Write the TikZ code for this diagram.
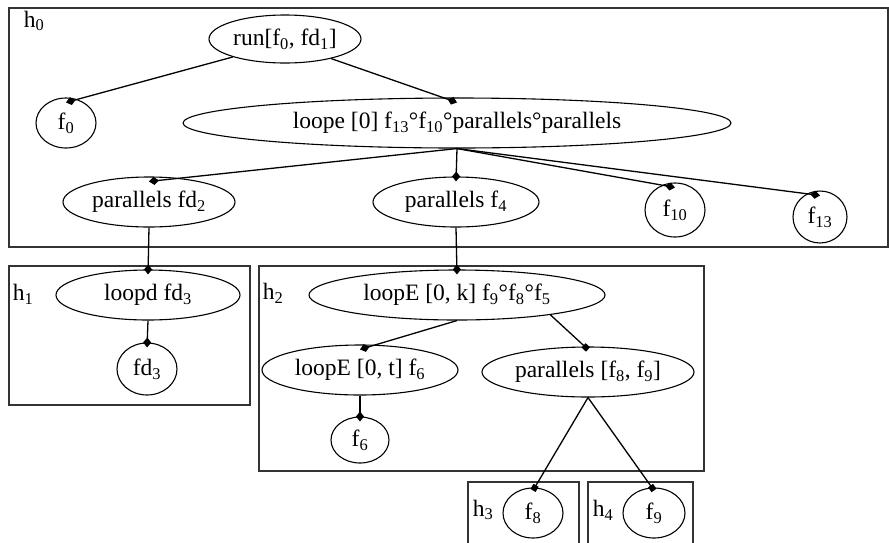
\documentclass[tikz,border=0pt]{standalone}
\usepackage{fontspec}
\setmainfont{Liberation Serif}
\usetikzlibrary{arrows.meta,shapes.geometric}
\newcommand{\sub}[1]{\textsubscript{#1}}
\tikzset{
  op/.style={draw,ellipse,line width=1.1pt,inner sep=0pt},
  leaf/.style={draw,ellipse,line width=1.1pt,inner sep=0pt},
  hbox/.style={draw=black!80,line width=1.3pt},
  edge/.style={line width=1.3pt,-{Diamond[length=10pt,width=8pt]}},
  sedge/.style={line width=1.3pt,-{Square[length=6pt,width=6pt]}}
}
\begin{document}
\begin{tikzpicture}[x=1pt,y=-1pt,font=\fontsize{23.5}{26}\selectfont]
\useasboundingbox (0,0) rectangle (889,542);
% host boxes
\draw[hbox] (9,8) rectangle (888,247);
\draw[hbox] (9,266) rectangle (250,405);
\draw[hbox] (259,266) rectangle (704,471);
\draw[hbox] (468,482) rectangle (579,545);
\draw[hbox] (588,482) rectangle (693,545);
\node (lh0) at (34,21) {h\sub{0}};
\node (lh1) at (23,294) {h\sub{1}};
\node (lh2) at (273,293) {h\sub{2}};
\node (lh3) at (483,510) {h\sub{3}};
\node (lh4) at (603,510) {h\sub{4}};
% h0
\node[op,minimum width=152,minimum height=48] (run) at (285,39) {run[f\sub{0}, fd\sub{1}]};
\node[leaf,minimum width=60,minimum height=50] (f0) at (66,123) {f\sub{0}};
\node[op,minimum width=548,minimum height=50] (loope) at (457,123) {loope [0] f\sub{13}°f\sub{10}°parallels°parallels};
\node[op,minimum width=172,minimum height=50] (pfd2) at (149,202) {parallels fd\sub{2}};
\node[op,minimum width=166,minimum height=50] (pf4) at (456,202) {parallels f\sub{4}};
\node[leaf,minimum width=60,minimum height=54] (f10) at (675,210) {f\sub{10}};
\node[leaf,minimum width=54,minimum height=52] (f13) at (820,217) {f\sub{13}};
% h1
\node[op,minimum width=184,minimum height=50] (loopd) at (148,295) {loopd fd\sub{3}};
\node[leaf,minimum width=60,minimum height=52] (fd3) at (147,369) {fd\sub{3}};
% h2
\node[op,minimum width=296,minimum height=50] (loopEk) at (457,295) {loopE [0, k] f\sub{9}°f\sub{8}°f\sub{5}};
\node[op,minimum width=196,minimum height=50] (loopEt) at (360,370) {loopE [0, t] f\sub{6}};
\node[op,minimum width=212,minimum height=50] (pf89) at (588,372) {parallels [f\sub{8}, f\sub{9}]};
\node[leaf,minimum width=58,minimum height=46] (f6) at (360,440) {f\sub{6}};
% h3, h4
\node[leaf,minimum width=60,minimum height=50] (f8) at (533,513) {f\sub{8}};
\node[leaf,minimum width=62,minimum height=50] (f9) at (654,513) {f\sub{9}};
% connectors
\draw[edge] (run.199) -- ([yshift=-5]f0.north);
\draw[edge] (run.-23) -- ([yshift=-5]loope.north);
\foreach \c in {pfd2,pf4,f10,f13}
  \draw[edge] (loope.south) -- ([yshift=-5]\c.north);
\draw[edge] (pfd2.south) -- ([yshift=-5]loopd.north);
\draw[edge] (pf4.south) -- ([yshift=-5]loopEk.north);
\draw[edge] (loopd.south) -- ([yshift=-5]fd3.north);
\draw[edge] (loopEk.south) -- ([yshift=-5]loopEt.north);
\draw[sedge] (loopEk.-12) -- ([yshift=-3]pf89.north);
\draw[edge] (loopEt.south) -- ([yshift=-5]f6.north);
\draw[sedge] (pf89.south) -- ([yshift=-3]f8.north);
\draw[sedge] (pf89.south) -- ([yshift=-3]f9.north);
\end{tikzpicture}
\end{document}
